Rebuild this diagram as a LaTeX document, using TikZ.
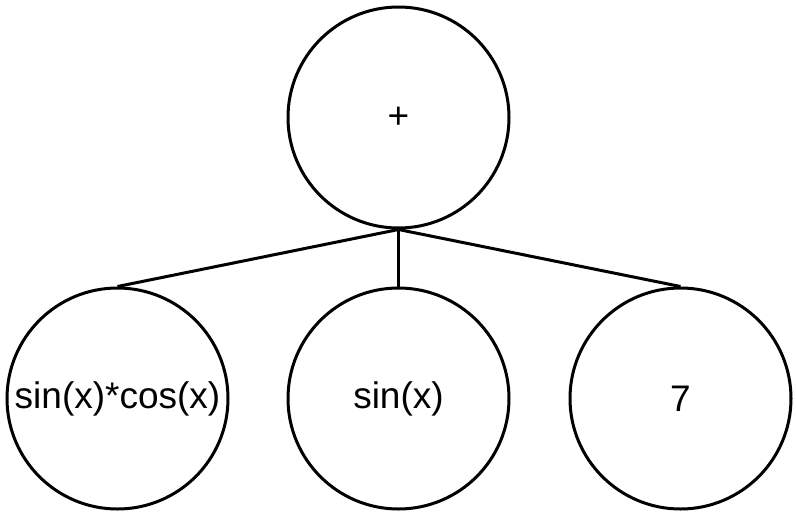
\documentclass[tikz,border=0pt]{standalone}
\usepackage{fontspec}
\setmainfont{Liberation Sans}
\begin{document}
\begin{tikzpicture}[x=1pt,y=-1pt,
  treenode/.style={circle,draw,line width=3pt,minimum size=221pt,inner sep=0pt,
    font=\fontsize{37}{44}\selectfont},
  link/.style={line width=3pt}]
  \useasboundingbox[fill=white] (0,0) rectangle (796,515);
  \node[treenode] (root) at (398.5,117.5) {+};
  \node[treenode] (prod) at (117.5,398.5) {sin(x)*cos(x)};
  \node[treenode] (sinx) at (398.5,398.5) {sin(x)};
  \node[treenode] (seven) at (680.5,398.5) {7};
  \draw[link] (root.south) -- (prod.north);
  \draw[link] (root.south) -- (sinx.north);
  \draw[link] (root.south) -- (seven.north);
\end{tikzpicture}
\end{document}
